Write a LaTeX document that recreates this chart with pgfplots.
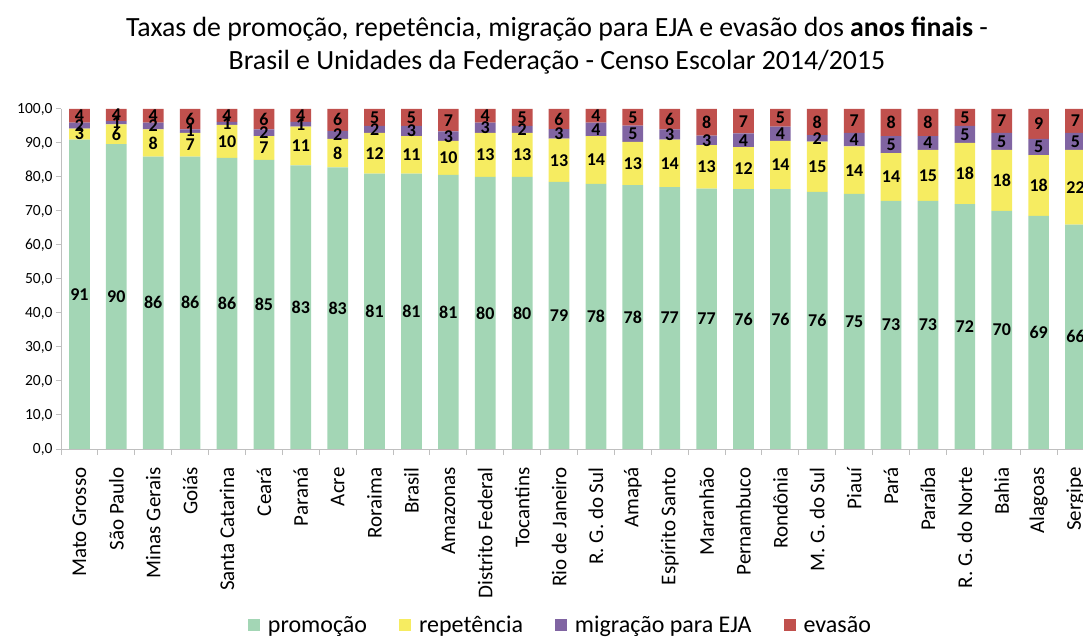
\documentclass[border=0pt]{standalone}
\usepackage{pgfplots}
\pgfplotsset{compat=1.18}
\usepackage{pgfplotstable}
\usepackage{fontspec}
\setmainfont{Carlito}
\definecolor{cprom}{RGB}{163,214,181}
\definecolor{crep}{RGB}{246,236,97}
\definecolor{cmig}{RGB}{128,100,162}
\definecolor{ceva}{RGB}{192,80,77}
\definecolor{caxis}{RGB}{191,191,191}
\pgfplotstableread{
idx prom rep mig eva
0 91.0 3.2 1.8 4.0
1 89.7 5.8 0.9 3.6
2 86.0 8.0 2.0 4.0
3 86.0 7.0 1.0 6.0
4 85.6 9.7 0.9 3.8
5 85.0 7.0 2.0 6.0
6 83.4 11.4 1.4 3.8
7 82.8 8.4 2.4 6.4
8 81.0 12.0 2.0 5.0
9 81.0 11.0 3.0 5.0
10 80.6 10.0 2.8 6.6
11 80.0 13.0 3.0 4.0
12 80.0 13.0 2.0 5.0
13 78.6 12.7 2.8 5.9
14 78.0 14.0 4.0 4.0
15 77.6 12.7 4.8 4.9
16 77.0 14.0 3.0 6.0
17 76.6 12.8 2.8 7.8
18 76.4 12.4 4.0 7.2
19 76.4 14.2 4.2 5.2
20 75.6 14.8 1.9 7.7
21 75.0 14.0 4.0 7.0
22 73.0 14.0 5.0 8.0
23 73.0 15.0 4.0 8.0
24 72.0 18.0 5.0 5.0
25 70.0 18.0 5.0 7.0
26 68.6 17.8 4.8 8.8
27 66.0 22.0 5.0 7.0
}\data
\pgfplotsset{
  common/.style={at={(61bp,188bp)}, anchor=south west,
    scale only axis, width=1033bp, height=340bp,
    xmin=-0.5, xmax=27.5, ymin=0, ymax=100},
  vlab/.style={draw=none, mark=none, point meta=explicit,
    nodes near coords={\pgfmathprintnumber[fixed,precision=0,assume math mode=true]{\pgfplotspointmeta}},
    every node near coord/.append style={anchor=center, inner sep=0pt, text=black, font=\bfseries\fontsize{18bp}{20bp}\selectfont}},
}
\begin{document}
\begin{tikzpicture}
\path[use as bounding box] (0,0) rectangle (1083bp,637bp);
\clip (0,0) rectangle (1083bp,637bp);
\begin{axis}[common,
  ybar stacked, bar width=20.7bp,
  axis x line*=bottom, axis y line*=left,
  axis line style={draw=caxis, line width=1bp, -},
  ytick={0,10,...,100},
  tick align=outside, major tick length=5bp,
  ytick style={draw=caxis, line width=1bp},
  yticklabel style={font=\fontsize{15.5bp}{18bp}\selectfont, /pgf/number format/.cd, fixed, fixed zerofill, precision=1, use comma, assume math mode=true},
  xtick={0,...,27}, xtick style={draw=none},
  xticklabels={Mato Grosso, São Paulo, Minas Gerais, Goiás, Santa Catarina, Ceará, Paraná, Acre, Roraima, Brasil, Amazonas, Distrito Federal, Tocantins, Rio de Janeiro, R. G. do Sul, Amapá, Espírito Santo, Maranhão, Pernambuco, Rondônia, M. G. do Sul, Piauí, Pará, Paraíba, R. G. do Norte, Bahia, Alagoas, Sergipe},
  xticklabel style={rotate=90, anchor=east, font=\fontsize{21bp}{24bp}\selectfont},
  xticklabel shift=10bp,
  extra x ticks={-0.5,0.5,...,27.5}, extra x tick labels={},
  extra x tick style={xtick style={draw=caxis, line width=1bp}, major tick length=6bp},
  legend columns=-1,
  legend style={at={(0.4835,-0.5176)}, anchor=center, draw=none, fill=none, font=\fontsize{24bp}{27bp}\selectfont, /tikz/every odd column/.append style={column sep=6bp}, /tikz/every even column/.append style={column sep=30bp}},
  legend image code/.code={\fill[#1, draw=none] (0bp,-6bp) rectangle (12bp,6bp);},
]
\addplot[fill=cprom, draw=none] table[x=idx, y=prom] {\data};
\addplot[fill=crep, draw=none] table[x=idx, y=rep] {\data};
\addplot[fill=cmig, draw=none] table[x=idx, y=mig] {\data};
\addplot[fill=ceva, draw=none] table[x=idx, y=eva] {\data};
\legend{promoção, repetência, migração para EJA, evasão}
\end{axis}
\begin{axis}[common, hide axis, clip=false]
\addplot[vlab] table[x=idx, y expr=\thisrow{prom}/2, meta=prom] {\data};
\addplot[vlab] table[x=idx, y expr=\thisrow{prom}+\thisrow{rep}/2, meta=rep] {\data};
\addplot[vlab] table[x=idx, y expr=\thisrow{prom}+\thisrow{rep}+\thisrow{mig}/2, meta=mig] {\data};
\addplot[vlab] table[x=idx, y expr=\thisrow{prom}+\thisrow{rep}+\thisrow{mig}+\thisrow{eva}/2, meta=eva] {\data};
\end{axis}
\node[align=center, font=\fontsize{27.8bp}{33bp}\selectfont] at (557bp,591.5bp) {Taxas de promoção, repetência, migração para EJA e evasão dos \textbf{anos finais} -\\Brasil e Unidades da Federação - Censo Escolar 2014/2015};
\end{tikzpicture}
\end{document}
